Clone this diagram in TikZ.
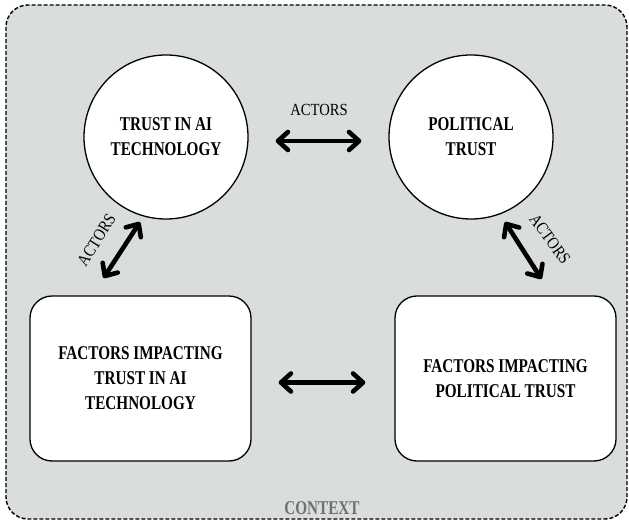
\documentclass[tikz,border=0pt]{standalone}
\usepackage{fontspec}
\setmainfont{Liberation Serif}
\newfontfamily\condfont[FakeStretch=0.78]{Liberation Serif}
\newfontfamily\labelfont[FakeStretch=0.86]{Liberation Serif}
\usetikzlibrary{arrows.meta}
\definecolor{ctxbg}{RGB}{217,222,219}
\definecolor{ctxtext}{RGB}{112,112,112}

\begin{document}
\begin{tikzpicture}[x=1pt,y=-1pt,
  bigtext/.style={font=\condfont\bfseries\fontsize{19.5}{25}\selectfont, align=center},
  concept/.style={circle, draw, line width=1.3pt, fill=white,
    minimum size=164pt, inner sep=0pt, bigtext},
  factor/.style={draw, line width=1.3pt, fill=white, rounded corners=22pt,
    minimum width=221pt, minimum height=165pt, inner sep=0pt, bigtext},
  link/.style={line width=4.6pt,
    {Straight Barb[length=10pt,width=18pt,round]}-{Straight Barb[length=10pt,width=18pt,round]}},
  actor/.style={font=\labelfont\fontsize{17}{19}\selectfont, inner sep=0pt}
]
\useasboundingbox (0,0) rectangle (629,521);

% context frame
\draw[fill=ctxbg, line width=1.4pt, dash pattern=on 4pt off 2pt, rounded corners=22pt]
  (6,5) rectangle (627,519);
\node[font=\condfont\bfseries\fontsize{19.5}{22}\selectfont, text=ctxtext, inner sep=0pt]
  (ctx) at (322,508.5) {CONTEXT};

% trust concepts
\node[concept] (ai) at (166,137) {TRUST IN AI\\TECHNOLOGY};
\node[concept] (pol) at (471,137) {POLITICAL\\TRUST};

% factor boxes
\node[factor] (fai) at (140.5,378.5) {FACTORS IMPACTING\\TRUST IN AI\\TECHNOLOGY};
\node[factor] (fpol) at (505.5,378.5) {FACTORS IMPACTING\\POLITICAL TRUST};

% diagonal arrow ends
\coordinate (la) at (103.5,278);
\coordinate (lb) at (140,222);
\coordinate (ra) at (505,222);
\coordinate (rb) at (541.5,279);

% connectors
\draw[link, shorten <=27pt, shorten >=27pt] ([yshift=-4pt]ai.east) -- ([yshift=-4pt]pol.west);
\draw[link, shorten <=27pt, shorten >=29pt] ([yshift=-4pt]fai.east) -- ([yshift=-4pt]fpol.west);
\draw[link] (la) -- (lb);
\draw[link] (ra) -- (rb);

% actor labels
\node[actor] (act1) at (319,109.5) {ACTORS};
\node[actor, rotate=58] (act2) at (96.5,240) {ACTORS};
\node[actor, rotate=-54] (act3) at (550,239) {ACTORS};
\end{tikzpicture}
\end{document}
